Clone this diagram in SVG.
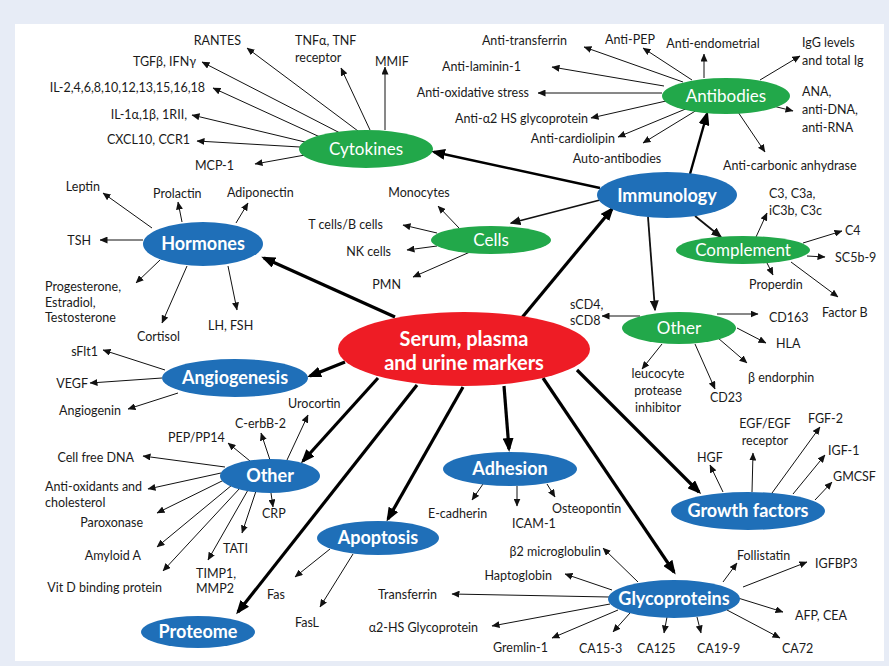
<svg xmlns="http://www.w3.org/2000/svg" width="889" height="666" viewBox="0 0 889 666">
<style>
.lbl{font-family:Lato,"Liberation Sans",sans-serif;font-size:12.5px;fill:#1a1a1a}
.e{text-anchor:end}.m{text-anchor:middle}
.t{stroke:#111;stroke-width:1;fill:none;marker-end:url(#a)}
.md{stroke:#111;stroke-width:1.8;fill:none;marker-end:url(#m)}
.tk{stroke:#000;stroke-width:3.2;fill:none;marker-end:url(#b)}
.tk2{stroke:#000;stroke-width:2.4;fill:none;marker-end:url(#b)}
.blue{fill:#1f6fb8}.green{fill:#22a84a}.red{fill:#ee1c25}
.nt{font-family:Lato,"Liberation Sans",sans-serif;fill:#fff;text-anchor:middle}
.nb{font-size:18px;font-weight:bold}
.ng{font-size:17px}
</style>
<defs>
<marker id="a" markerWidth="8" markerHeight="7" refX="7.5" refY="3.5" orient="auto" markerUnits="userSpaceOnUse"><path d="M0,0 L8,3.5 L0,7 z" fill="#111"/></marker>
<marker id="m" markerWidth="11" markerHeight="9" refX="9.5" refY="4.5" orient="auto" markerUnits="userSpaceOnUse"><path d="M0,0 L11,4.5 L0,9 z" fill="#111"/></marker>
<marker id="b" markerWidth="14" markerHeight="11" refX="11" refY="5.5" orient="auto" markerUnits="userSpaceOnUse"><path d="M0,0 L14,5.5 L0,11 z" fill="#000"/></marker>
</defs>
<rect x="0" y="0" width="889" height="666" fill="#e7ecf6"/>
<rect x="15" y="24" width="869" height="637" fill="#fff"/>

<g id="connectors">
<!-- from serum -->
<line class="tk" x1="520" y1="320" x2="612" y2="209"/>
<line class="tk" x1="395" y1="317" x2="264" y2="258"/>
<line class="tk" x1="345" y1="362" x2="310" y2="376"/>
<line class="tk" x1="378" y1="378" x2="303" y2="461"/>
<line class="tk" x1="417" y1="385" x2="238" y2="612"/>
<line class="tk" x1="463" y1="387" x2="388" y2="519"/>
<line class="tk" x1="504" y1="386" x2="509" y2="449"/>
<line class="tk" x1="543" y1="378" x2="674" y2="572"/>
<line class="tk" x1="577" y1="370" x2="699" y2="492"/>
<!-- from immunology -->
<line class="tk2" x1="600" y1="188" x2="434" y2="152"/>
<line class="tk2" x1="690" y1="174" x2="707" y2="114"/>
<line class="md" x1="600" y1="200" x2="511" y2="223"/>
<line class="md" x1="695" y1="216" x2="721" y2="237"/>
<line class="md" x1="648" y1="217" x2="655" y2="310"/>
<!-- cytokines -->
<line class="t" x1="358" y1="131" x2="247" y2="48"/>
<line class="t" x1="370" y1="130" x2="341" y2="68"/>
<line class="t" x1="385" y1="130" x2="385" y2="67"/>
<line class="t" x1="340" y1="133" x2="202" y2="62"/>
<line class="t" x1="320" y1="137" x2="213" y2="88"/>
<line class="t" x1="305" y1="142" x2="192" y2="115"/>
<line class="t" x1="300" y1="147" x2="197" y2="141"/>
<line class="t" x1="305" y1="155" x2="255" y2="164"/>
<!-- antibodies -->
<line class="t" x1="683" y1="82" x2="584" y2="47"/>
<line class="t" x1="692" y1="80" x2="643" y2="48"/>
<line class="t" x1="704" y1="78" x2="704" y2="54"/>
<line class="t" x1="760" y1="80" x2="800" y2="56"/>
<line class="t" x1="664" y1="86" x2="552" y2="67"/>
<line class="t" x1="662" y1="93" x2="538" y2="93"/>
<line class="t" x1="666" y1="101" x2="591" y2="118"/>
<line class="t" x1="688" y1="108" x2="618" y2="137"/>
<line class="t" x1="697" y1="110" x2="643" y2="143"/>
<line class="t" x1="773" y1="106" x2="793" y2="111"/>
<line class="t" x1="738" y1="112" x2="765" y2="152"/>
<!-- cells -->
<line class="t" x1="459" y1="228" x2="438" y2="206"/>
<line class="t" x1="437" y1="233" x2="403" y2="225"/>
<line class="t" x1="437" y1="246" x2="407" y2="250"/>
<line class="t" x1="470" y1="252" x2="413" y2="277"/>
<!-- complement -->
<line class="t" x1="756" y1="237" x2="767" y2="213"/>
<line class="t" x1="803" y1="243" x2="842" y2="231"/>
<line class="t" x1="807" y1="256" x2="825" y2="257"/>
<line class="t" x1="767" y1="263" x2="773" y2="275"/>
<line class="t" x1="791" y1="262" x2="838" y2="297"/>
<!-- other green -->
<line class="t" x1="640" y1="316" x2="602" y2="316"/>
<line class="t" x1="717" y1="314" x2="758" y2="314"/>
<line class="t" x1="737" y1="328" x2="766" y2="343"/>
<line class="t" x1="718" y1="338" x2="747" y2="363"/>
<line class="t" x1="695" y1="344" x2="715" y2="389"/>
<line class="t" x1="662" y1="344" x2="642" y2="369"/>
<!-- hormones -->
<line class="t" x1="152" y1="228" x2="103" y2="193"/>
<line class="t" x1="182" y1="222" x2="178" y2="202"/>
<line class="t" x1="236" y1="223" x2="248" y2="203"/>
<line class="t" x1="143" y1="240" x2="100" y2="240"/>
<line class="t" x1="160" y1="260" x2="136" y2="283"/>
<line class="t" x1="187" y1="266" x2="162" y2="323"/>
<line class="t" x1="228" y1="266" x2="237" y2="310"/>
<!-- angiogenesis -->
<line class="t" x1="165" y1="370" x2="103" y2="350"/>
<line class="t" x1="162" y1="378" x2="90" y2="383"/>
<line class="t" x1="178" y1="393" x2="128" y2="409"/>
<!-- other blue -->
<line class="t" x1="287" y1="460" x2="308" y2="415"/>
<line class="t" x1="270" y1="460" x2="261" y2="433"/>
<line class="t" x1="250" y1="461" x2="228" y2="443"/>
<line class="t" x1="225" y1="467" x2="143" y2="456"/>
<line class="t" x1="221" y1="473" x2="148" y2="489"/>
<line class="t" x1="224" y1="480" x2="157" y2="513"/>
<line class="t" x1="232" y1="485" x2="157" y2="547"/>
<line class="t" x1="240" y1="488" x2="163" y2="571"/>
<line class="t" x1="248" y1="490" x2="208" y2="560"/>
<line class="t" x1="256" y1="491" x2="242" y2="533"/>
<line class="t" x1="271" y1="493" x2="273" y2="507"/>
<!-- adhesion -->
<line class="t" x1="483" y1="484" x2="472" y2="500"/>
<line class="t" x1="517" y1="486" x2="517" y2="506"/>
<line class="t" x1="547" y1="484" x2="555" y2="497"/>
<!-- apoptosis -->
<line class="t" x1="330" y1="549" x2="295" y2="577"/>
<line class="t" x1="353" y1="554" x2="320" y2="607"/>
<!-- glycoproteins -->
<line class="t" x1="638" y1="582" x2="603" y2="548"/>
<line class="t" x1="612" y1="590" x2="565" y2="574"/>
<line class="t" x1="609" y1="597" x2="452" y2="594"/>
<line class="t" x1="610" y1="604" x2="492" y2="626"/>
<line class="t" x1="618" y1="610" x2="552" y2="638"/>
<line class="t" x1="630" y1="613" x2="613" y2="632"/>
<line class="t" x1="667" y1="617" x2="664" y2="633"/>
<line class="t" x1="697" y1="617" x2="701" y2="633"/>
<line class="t" x1="727" y1="610" x2="780" y2="638"/>
<line class="t" x1="738" y1="598" x2="783" y2="612"/>
<line class="t" x1="723" y1="582" x2="737" y2="563"/>
<line class="t" x1="743" y1="587" x2="807" y2="562"/>
<!-- growth factors -->
<line class="t" x1="723" y1="492" x2="710" y2="465"/>
<line class="t" x1="752" y1="492" x2="753" y2="453"/>
<line class="t" x1="772" y1="493" x2="820" y2="427"/>
<line class="t" x1="793" y1="494" x2="825" y2="455"/>
<line class="t" x1="815" y1="500" x2="832" y2="482"/>
</g>

<g id="serum"><ellipse class="red" cx="464" cy="349" rx="126" ry="37"/>
<text class="nt" x="464" y="346" font-size="20" font-weight="bold">Serum, plasma</text>
<text class="nt" x="464" y="370" font-size="20" font-weight="bold">and urine markers</text></g>

<g id="immunology"><ellipse class="blue" cx="667" cy="195" rx="70" ry="23"/><text class="nt nb" x="667" y="202">Immunology</text></g>
<g id="antibodies"><ellipse class="green" cx="726" cy="96" rx="64" ry="18"/><text class="nt ng" x="726" y="102">Antibodies</text>
<text class="lbl e" x="567" y="44.5">Anti-transferrin</text>
<text class="lbl" x="605" y="44">Anti-PEP</text>
<text class="lbl m" x="713" y="48">Anti-endometrial</text>
<text class="lbl" x="802" y="46.5">IgG levels</text>
<text class="lbl" x="802" y="64.5">and total Ig</text>
<text class="lbl e" x="521" y="71">Anti-laminin-1</text>
<text class="lbl e" x="529" y="97">Anti-oxidative stress</text>
<text class="lbl e" x="588" y="123">Anti-α2 HS glycoprotein</text>
<text class="lbl e" x="615" y="142.5">Anti-cardiolipin</text>
<text class="lbl m" x="617" y="162.5">Auto-antibodies</text>
<text class="lbl" x="802" y="96">ANA,</text>
<text class="lbl" x="802" y="114">anti-DNA,</text>
<text class="lbl" x="802" y="132">anti-RNA</text>
<text class="lbl" x="723" y="169.5">Anti-carbonic anhydrase</text></g>

<g id="cytokines"><ellipse class="green" cx="366" cy="149" rx="67" ry="19"/><text class="nt ng" x="366" y="155">Cytokines</text>
<text class="lbl e" x="241" y="45">RANTES</text>
<text class="lbl" x="295" y="44.5">TNFα, TNF</text>
<text class="lbl" x="295" y="62">receptor</text>
<text class="lbl" x="375" y="66">MMIF</text>
<text class="lbl e" x="196" y="66">TGFβ, IFNγ</text>
<text class="lbl e" x="205" y="92">IL-2,4,6,8,10,12,13,15,16,18</text>
<text class="lbl e" x="187" y="119">IL-1α,1β, 1RII,</text>
<text class="lbl e" x="190" y="144">CXCL10, CCR1</text>
<text class="lbl e" x="234" y="170">MCP-1</text></g>

<g id="cells"><ellipse class="green" cx="491" cy="240" rx="60" ry="14"/><text class="nt ng" x="491" y="246">Cells</text>
<text class="lbl m" x="419" y="196.5">Monocytes</text>
<text class="lbl e" x="383" y="228.5">T cells/B cells</text>
<text class="lbl e" x="391" y="255.5">NK cells</text>
<text class="lbl e" x="401" y="288.5">PMN</text></g>

<g id="complement"><ellipse class="green" cx="743" cy="250" rx="67" ry="14"/><text class="nt ng" x="743" y="256">Complement</text>
<text class="lbl" x="769" y="197.5">C3, C3a,</text>
<text class="lbl" x="769" y="214.5">iC3b, C3c</text>
<text class="lbl" x="845" y="234.5">C4</text>
<text class="lbl" x="835" y="262">SC5b-9</text>
<text class="lbl" x="749" y="288.5">Properdin</text>
<text class="lbl" x="822" y="316.5">Factor B</text></g>

<g id="other-immuno"><ellipse class="green" cx="679" cy="328" rx="57" ry="16"/><text class="nt ng" x="679" y="334">Other</text>
<text class="lbl" x="570" y="308.5">sCD4,</text>
<text class="lbl" x="570" y="325">sCD8</text>
<text class="lbl" x="769" y="321.5">CD163</text>
<text class="lbl" x="776" y="347.5">HLA</text>
<text class="lbl" x="748" y="381.5">β endorphin</text>
<text class="lbl" x="710" y="401.5">CD23</text>
<text class="lbl m" x="658" y="377.5">leucocyte</text>
<text class="lbl m" x="658" y="394.5">protease</text>
<text class="lbl m" x="658" y="411.5">inhibitor</text></g>

<g id="hormones"><ellipse class="blue" cx="203" cy="244" rx="60" ry="22"/><text class="nt nb" x="203" y="250">Hormones</text>
<text class="lbl e" x="100" y="190.5">Leptin</text>
<text class="lbl" x="153" y="197.5">Prolactin</text>
<text class="lbl" x="227" y="196.5">Adiponectin</text>
<text class="lbl e" x="91" y="244.5">TSH</text>
<text class="lbl" x="45" y="290.5">Progesterone,</text>
<text class="lbl" x="45" y="306.5">Estradiol,</text>
<text class="lbl" x="45" y="321.5">Testosterone</text>
<text class="lbl" x="137" y="340.5">Cortisol</text>
<text class="lbl" x="208" y="329.5">LH, FSH</text></g>

<g id="angiogenesis"><ellipse class="blue" cx="235" cy="378" rx="73" ry="19"/><text class="nt nb" x="235" y="384">Angiogenesis</text>
<text class="lbl e" x="98" y="356">sFlt1</text>
<text class="lbl e" x="88" y="387.5">VEGF</text>
<text class="lbl e" x="121" y="414.5">Angiogenin</text></g>

<g id="other-serum"><ellipse class="blue" cx="270" cy="476" rx="50" ry="17"/><text class="nt nb" x="270" y="482">Other</text>
<text class="lbl" x="288" y="407.5">Urocortin</text>
<text class="lbl" x="235" y="427.5">C-erbB-2</text>
<text class="lbl" x="168" y="441.5">PEP/PP14</text>
<text class="lbl e" x="134" y="461.5">Cell free DNA</text>
<text class="lbl" x="45" y="490.5">Anti-oxidants and</text>
<text class="lbl" x="45" y="506.5">cholesterol</text>
<text class="lbl e" x="143" y="526.5">Paroxonase</text>
<text class="lbl e" x="141" y="559.5">Amyloid A</text>
<text class="lbl e" x="162" y="591.5">Vit D binding protein</text>
<text class="lbl" x="196" y="577.5">TIMP1,</text>
<text class="lbl" x="196" y="592.5">MMP2</text>
<text class="lbl" x="223" y="552.5">TATI</text>
<text class="lbl" x="262" y="517.5">CRP</text></g>

<g id="adhesion"><ellipse class="blue" cx="510" cy="469" rx="67" ry="17"/><text class="nt nb" x="510" y="475">Adhesion</text>
<text class="lbl" x="428" y="518">E-cadherin</text>
<text class="lbl" x="512" y="527.5">ICAM-1</text>
<text class="lbl" x="552" y="512.5">Osteopontin</text></g>

<g id="apoptosis"><ellipse class="blue" cx="378" cy="538" rx="61" ry="17"/><text class="nt nb" x="378" y="544">Apoptosis</text>
<text class="lbl" x="267" y="598.5">Fas</text>
<text class="lbl" x="295" y="626.5">FasL</text></g>

<g id="proteome"><ellipse class="blue" cx="198" cy="632" rx="57" ry="16"/><text class="nt nb" x="198" y="638">Proteome</text></g>

<g id="glycoproteins"><ellipse class="blue" cx="674" cy="599" rx="66" ry="19"/><text class="nt nb" x="674" y="605">Glycoproteins</text>
<text class="lbl e" x="601" y="555.5">β2 microglobulin</text>
<text class="lbl e" x="552" y="579.5">Haptoglobin</text>
<text class="lbl e" x="437" y="598.5">Transferrin</text>
<text class="lbl e" x="478" y="631.5">α2-HS Glycoprotein</text>
<text class="lbl e" x="548" y="651.5">Gremlin-1</text>
<text class="lbl" x="579" y="652.5">CA15-3</text>
<text class="lbl" x="637" y="652.5">CA125</text>
<text class="lbl" x="697" y="652.5">CA19-9</text>
<text class="lbl" x="782" y="652.5">CA72</text>
<text class="lbl" x="795" y="619.5">AFP, CEA</text>
<text class="lbl" x="737" y="559.5">Follistatin</text>
<text class="lbl" x="815" y="567.5">IGFBP3</text></g>

<g id="growth-factors"><ellipse class="blue" cx="748" cy="511" rx="77" ry="19"/><text class="nt nb" x="748" y="517">Growth factors</text>
<text class="lbl" x="697" y="461.5">HGF</text>
<text class="lbl m" x="765" y="427.5">EGF/EGF</text>
<text class="lbl m" x="765" y="444.5">receptor</text>
<text class="lbl" x="808" y="422.5">FGF-2</text>
<text class="lbl" x="828" y="454.5">IGF-1</text>
<text class="lbl" x="833" y="480.5">GMCSF</text></g>
</svg>
